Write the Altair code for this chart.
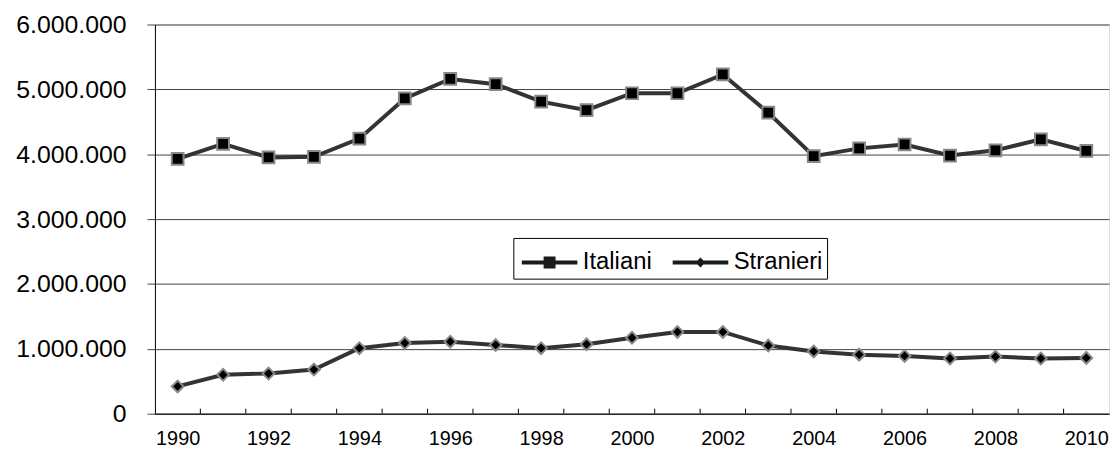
import altair as alt
import pandas as pd

years = list(range(1990, 2011))
italiani = [3.93, 4.16, 3.95, 3.96, 4.24, 4.86, 5.16, 5.08, 4.81, 4.68, 4.94,
            4.94, 5.23, 4.64, 3.97, 4.09, 4.15, 3.98, 4.06, 4.23, 4.05]
stranieri = [0.42, 0.60, 0.62, 0.68, 1.01, 1.09, 1.11, 1.06, 1.01, 1.07, 1.17,
             1.26, 1.26, 1.05, 0.96, 0.91, 0.89, 0.85, 0.88, 0.85, 0.86]
series_names = ["Italiani", "Stranieri"]
y_ticks = [0, 1000000, 2000000, 3000000, 4000000, 5000000, 6000000]
x_labels = list(range(1990, 2011, 2))

rows = []
for name, vals in zip(series_names, [italiani, stranieri]):
    for yr, v in zip(years, vals):
        rows.append({"year": yr, "series": name, "value": round(v * 1_000_000)})
df = pd.DataFrame(rows)

tick_df = pd.DataFrame({"pos": [y + 0.5 for y in years[:-1]]})

W, H = 961, 392
FONT = "Liberation Sans"

xscale = alt.Scale(domain=[1989.5, 2010.5], nice=False, zero=False)
yscale = alt.Scale(domain=[0, 6000000], nice=False)

x_enc = alt.X("year:Q", scale=xscale,
              axis=alt.Axis(values=x_labels, format="d", ticks=False, grid=False,
                            domainColor="black", labelFontSize=20, labelFont=FONT,
                            labelColor="black", labelPadding=15, title=None,
                            labelFlush=False))
y_enc = alt.Y("value:Q", scale=yscale,
              axis=alt.Axis(values=y_ticks, grid=True, gridColor="#444",
                            tickColor="#444", tickSize=8, domainColor="black",
                            labelFontSize=25, labelFont=FONT, labelColor="black",
                            labelPadding=21, title=None,
                            labelExpr="replace(format(datum.value, ','), regexp(',', 'g'), '.')"))

lines = alt.Chart(df).mark_line(color="#333333", strokeWidth=4).encode(
    x=x_enc, y=y_enc, detail="series:N")

# legend symbols: path scaled by r = sqrt(size)/2 = 20 px; spans x -16..40 px
sq_leg = ("M-0.8,-0.1L0.3,-0.1L0.3,-0.3L0.9,-0.3L0.9,-0.1L2,-0.1"
          "L2,0.1L0.9,0.1L0.9,0.3L0.3,0.3L0.3,0.1L-0.8,0.1Z")
di_leg = ("M-0.8,-0.1L0.45,-0.1L0.6,-0.25L0.75,-0.1L2,-0.1"
          "L2,0.1L0.75,0.1L0.6,0.25L0.45,0.1L-0.8,0.1Z")

legend_layer = alt.Chart(df).mark_point(filled=True, color="#1a1a1a", size=1, opacity=1).encode(
    x=alt.X("year:Q", scale=xscale),
    y=alt.Y("value:Q", scale=yscale),
    shape=alt.Shape("series:N",
                    scale=alt.Scale(domain=series_names, range=[sq_leg, di_leg]),
                    legend=alt.Legend(title=None, orient="none", legendX=361, legendY=215,
                                      direction="horizontal", strokeColor="black",
                                      fillColor="white", padding=4, symbolSize=1600,
                                      labelFontSize=24, labelFont=FONT, labelColor="black",
                                      columnPadding=16, labelOffset=25,
                                      symbolStrokeColor="#666", symbolStrokeWidth=1)))

points = alt.Chart(df).mark_point(filled=True, fill="black", stroke="#888",
                                  strokeWidth=2, size=140, opacity=1).encode(
    x=alt.X("year:Q", scale=xscale),
    y=alt.Y("value:Q", scale=yscale),
    shape=alt.Shape("series:N",
                    scale=alt.Scale(domain=series_names, range=["square", "diamond"]),
                    legend=None))

ticks = alt.Chart(tick_df).mark_rule(color="black", strokeWidth=1).encode(
    x=alt.X("pos:Q", scale=xscale),
    y=alt.value(H),
    y2=alt.value(H - 5))

chart = alt.layer(ticks, lines, legend_layer, points).resolve_scale(
    shape="independent"
).properties(
    width=W, height=H,
    autosize=alt.AutoSizeParams(type="none"),
    padding={"left": 148, "top": 15, "right": 3, "bottom": 39},
).configure_view(stroke="#555").configure(background="white")

chart.save("out.html", embed_options={"renderer": "svg", "actions": False})
